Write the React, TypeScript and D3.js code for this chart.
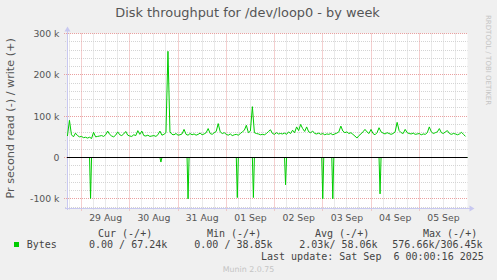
import React from "react";
import * as d3 from "d3";

// ---------- data ----------
// write bytes per second (thousands), hourly samples starting 28 Aug 17:00
const writeStart = "2025-08-28 17:00";
const writeValues = [
  52, 90, 55, 50, 59, 53, 50, 51, 48, 49, 47, 49, 46, 61, 50, 51, 52, 53, 51, 55,
  64, 56, 52, 50, 54, 62, 55, 53, 57, 63, 54, 52, 51, 55, 53, 65, 56, 64, 53, 52,
  54, 51, 52, 53, 51, 55, 64, 54, 56, 60, 257, 62, 56, 55, 58, 54, 55, 57, 68, 56,
  54, 58, 55, 57, 54, 56, 59, 55, 57, 60, 70, 58, 56, 60, 63, 82, 62, 58, 60, 56,
  54, 57, 53, 55, 56, 54, 58, 62, 66, 78, 60, 64, 123, 60, 58, 57, 55, 56, 55, 58,
  63, 67, 58, 56, 60, 57, 58, 57, 59, 56, 62, 58, 66, 60, 74, 65, 80, 70, 63, 74,
  62, 60, 64, 58, 57, 59, 56, 58, 55, 57, 56, 58, 55, 57, 59, 62, 76, 64, 60, 62,
  58, 60, 56, 52, 47, 53, 57, 62, 68, 62, 58, 68, 58, 55, 60, 72, 62, 59, 57, 60,
  58, 56, 58, 62, 85, 65, 60, 58, 68, 60, 58, 57, 59, 56, 57, 58, 55, 57, 56, 60,
  74, 62, 58, 60, 62, 70, 60, 58, 62, 65, 58, 56, 58, 57, 55, 57, 61, 56, 51,
];
// read bytes per second (thousands, drawn negative); zero elsewhere
const readSpikeTimes = [
  "2025-08-29 04:30", "2025-08-30 15:30", "2025-08-31 05:00", "2025-09-01 05:30",
  "2025-09-01 13:30", "2025-09-02 05:30", "2025-09-03 00:00", "2025-09-03 05:00",
  "2025-09-04 04:30",
];
const readSpikeValues = [99, 11, 100, 97, 97, 66, 100, 100, 88];

const yTickValues = [300000, 200000, 100000, 0, -100000];
const yTickLabels = ["300 k", "200 k", "100 k", "0", "-100 k"];
const xDayLabels = ["29 Aug", "30 Aug", "31 Aug", "01 Sep", "02 Sep", "03 Sep", "04 Sep", "05 Sep"];

const legendHeaders = ["Cur (-/+)", "Min (-/+)", "Avg (-/+)", "Max (-/+)"];
const legendValues = ["0.00 / 67.24k", "0.00 / 38.85k", "2.03k/ 58.06k", "576.66k/306.45k"];
const seriesName = "Bytes";
const lastUpdate = "Last update: Sat Sep  6 00:00:16 2025";

// ---------- layout ----------
const W = 497, H = 280;
const L = 67, R = 467.5, T = 33.5, B = 208;
const ZERO = 157.5;
const GREEN = "#00cc00";
const TXT = "#555555";
const AXIS = "#c8c8f0";

export default function App() {
  const parse = d3.timeParse("%Y-%m-%d %H:%M");
  const t0 = new Date(2025, 7, 28, 16, 47);
  const t1 = new Date(2025, 8, 6, 0, 0);
  const x = d3.scaleTime().domain([t0, t1]).range([L, R]);
  const y = d3.scaleLinear().domain([0, 300000]).range([ZERO, T]);

  const ws = parse(writeStart)!;
  const writePts = writeValues.map((v, i) => [d3.timeHour.offset(ws, i), v * 1000] as [Date, number]);

  const readPts: [Date, number][] = [[t0, 0]];
  readSpikeTimes.forEach((s, i) => {
    const t = parse(s)!;
    readPts.push([d3.timeMinute.offset(t, -30), 0]);
    readPts.push([t, -readSpikeValues[i] * 1000]);
    readPts.push([d3.timeMinute.offset(t, 30), 0]);
  });
  readPts.push([t1, 0]);

  const line = d3.line<[Date, number]>().x((d) => x(d[0])).y((d) => y(d[1]));

  const px = (v: number) => Math.floor(v) + 0.5;

  const minorX = d3.timeHour.every(6)!.range(t0, t1).filter((d) => d.getHours() !== 0);
  const majorX = d3.timeDay.range(t0, t1);
  const minorY = d3.range(-120000, 300001, 20000).filter((v) => v % 100000 !== 0);
  const days = d3.timeDay.range(new Date(2025, 7, 29), new Date(2025, 8, 6));

  return (
    <svg width={W} height={H} style={{ position: "absolute", left: 0, top: 0 }}
      fontFamily="DejaVu Sans, sans-serif">
      <rect x={0} y={0} width={W} height={H} fill="#f0f0f0" />
      <rect x={L} y={T} width={R - L} height={B - T} fill="#ffffff" />

      {/* minor grid */}
      {minorX.map((d, i) => (
        <line key={"mx" + i} x1={px(x(d))} x2={px(x(d))} y1={T} y2={B + 2}
          stroke="#d4d4d4" strokeDasharray="1,1" />
      ))}
      {minorY.map((v, i) => (
        <line key={"my" + i} x1={L - 2} x2={R} y1={px(y(v))} y2={px(y(v))}
          stroke="#d4d4d4" strokeDasharray="1,1" />
      ))}
      {/* major grid */}
      {majorX.map((d, i) => (
        <line key={"Mx" + i} x1={px(x(d))} x2={px(x(d))} y1={T} y2={B + 3}
          stroke="#eaa0a0" strokeDasharray="1,1" />
      ))}
      {yTickValues.map((v, i) => (
        <line key={"My" + i} x1={L - 3} x2={R} y1={px(y(v))} y2={px(y(v))}
          stroke="#eaa0a0" strokeDasharray="1,1" />
      ))}

      {/* axes */}
      <line x1={px(L)} x2={px(L)} y1={B + 2} y2={T - 4} stroke={AXIS} />
      <path d={`M${px(L) - 3},${T - 2} L${px(L)},${T - 7} L${px(L) + 3},${T - 2} Z`} fill={AXIS} />
      <line x1={L - 2} x2={R + 3} y1={px(B)} y2={px(B)} stroke={AXIS} />
      <path d={`M${R + 2},${px(B) - 3} L${R + 7},${px(B)} L${R + 2},${px(B) + 3} Z`} fill={AXIS} />

      {/* data */}
      <path d={line(readPts) || ""} fill="none" stroke={GREEN} strokeWidth={1} />
      <path d={line(writePts) || ""} fill="none" stroke={GREEN} strokeWidth={1} strokeLinejoin="round" />
      <line x1={L} x2={R} y1={y(0)} y2={y(0)} stroke="#000000" strokeWidth={1.2} />

      {/* y tick labels */}
      {yTickValues.map((v, i) => (
        <text key={"yl" + i} x={59.5} y={y(v) + 3.4} textAnchor="end" fontSize={9.3} fill={TXT}>
          {yTickLabels[i]}
        </text>
      ))}
      {/* x tick labels */}
      {days.map((d, i) => (
        <text key={"xl" + i} x={x(d3.timeHour.offset(d, 12))} y={220.5} textAnchor="middle"
          fontSize={9.3} fill={TXT}>
          {xDayLabels[i]}
        </text>
      ))}

      {/* title and labels */}
      <text x={247.5} y={16.5} textAnchor="middle" fontSize={12.9} fill={TXT}>
        Disk throughput for /dev/loop0 - by week
      </text>
      <text transform="translate(13.5,118.4) rotate(-90)" textAnchor="middle" fontSize={11.2} fill={TXT}>
        Pr second read (-) / write (+)
      </text>
      <text transform="translate(485.5,15) rotate(90)" fontSize={7} fill="#c4c4c4">
        RRDTOOL / TOBI OETIKER
      </text>

      {/* legend */}
      <g fontFamily="DejaVu Sans Mono, monospace" fontSize={10} fill="#444444" style={{ whiteSpace: "pre" }}>
        {legendHeaders.map((h, i) => (
          <text key={"lh" + i} x={[98, 207, 315, 423][i]} y={236.5}>{h}</text>
        ))}
        <rect x={14} y={242} width={5} height={5} fill={GREEN} />
        <text x={26.7} y={247.8}>{seriesName}</text>
        {legendValues.map((v, i) => (
          <text key={"lv" + i} x={[89, 194.3, 299.3, 392.3][i]} y={247.8} xmlSpace="preserve">{v}</text>
        ))}
        <text x={261} y={260} xmlSpace="preserve">{lastUpdate}</text>
      </g>
      <text x={248.5} y={271.5} textAnchor="middle" fontSize={7.9} fill="#c4c4c4">Munin 2.0.75</text>
    </svg>
  );
}
